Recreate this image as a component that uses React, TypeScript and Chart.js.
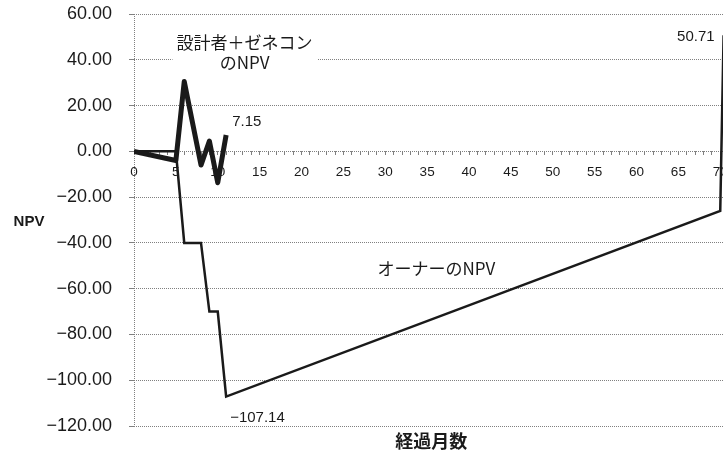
import React, { useEffect, useRef } from "react";
import { Chart, registerables } from "chart.js";

Chart.register(...registerables);

// Designer + general contractor NPV by elapsed month
const designerMonths = [0, 5, 6, 8, 9, 10, 11];
const designerNpv = [0, -4, 30.5, -6, 4.5, -13.7, 7.15];

// Owner NPV by elapsed month
const ownerMonths = [0, 5, 6, 8, 9, 10, 11, 70, 70.4];
const ownerNpv = [0, 0, -40, -40, -70, -70, -107.14, -26, 50.71];

// Axis ranges
const monthRange = [0, 72];
const monthLabelStep = 5;
const npvRange = [-120, 60];
const npvStep = 20;

// Texts
const designerCaption = ["設計者＋ゼネコン", "のNPV"];
const ownerCaption = "オーナーのNPV";
const xTitle = "経過月数";
const yTitle = "NPV";

const INK = "#1a1a1a";
const GRID = "#808080";
const NUM_FONT = '"Liberation Sans", Arial, sans-serif';
const JP_FONT = '"Noto Sans CJK JP", "Noto Sans", sans-serif';

const fmt = (v: number) => (v < 0 ? "\u2212" : "") + Math.abs(v).toFixed(2);
const fmtLabel = (v: number) => (v < 0 ? "\u2212" : "") + String(Math.abs(v));

const annotations = {
  id: "npvAnnotations",
  beforeDatasetsDraw(chart: any) {
    const { ctx, scales } = chart;
    const x = scales.x;
    const y = scales.y;
    // white backing behind the designer caption (hides the gridline behind it)
    const l = x.getPixelForValue(4.6);
    const r = x.getPixelForValue(21.9);
    const t = y.getPixelForValue(53.5);
    const b = y.getPixelForValue(34);
    ctx.save();
    ctx.fillStyle = "#ffffff";
    ctx.fillRect(l, t, r - l, b - t);
    ctx.restore();
  },
  afterDatasetsDraw(chart: any) {
    const { ctx, scales, chartArea } = chart;
    const x = scales.x;
    const y = scales.y;
    ctx.save();
    ctx.fillStyle = INK;
    ctx.textBaseline = "middle";

    // designer caption
    ctx.font = `17px ${JP_FONT}`;
    ctx.textAlign = "center";
    const cx = x.getPixelForValue(13.2);
    ctx.fillText(designerCaption[0], cx, y.getPixelForValue(47.6));
    ctx.fillText(designerCaption[1], cx, y.getPixelForValue(38.9));

    // owner caption
    ctx.fillText(ownerCaption, x.getPixelForValue(36.1), y.getPixelForValue(-51.4));

    // value labels
    ctx.font = `15px ${NUM_FONT}`;
    const dLast = designerNpv.length - 1;
    const dx = x.getPixelForValue(designerMonths[dLast]);
    const dy = y.getPixelForValue(designerNpv[dLast]);
    ctx.textAlign = "left";
    ctx.fillText(fmtLabel(designerNpv[dLast]), dx + 6, dy - 13);

    const minVal = Math.min(...ownerNpv);
    const minIdx = ownerNpv.indexOf(minVal);
    const mx = x.getPixelForValue(ownerMonths[minIdx]);
    const my = y.getPixelForValue(minVal);
    ctx.fillText(fmtLabel(minVal), mx + 4, my + 21);

    const oLast = ownerNpv.length - 1;
    const ox = x.getPixelForValue(ownerMonths[oLast]);
    const oy = y.getPixelForValue(ownerNpv[oLast]);
    ctx.textAlign = "right";
    ctx.fillText(fmtLabel(ownerNpv[oLast]), ox - 9, oy + 2);

    // axis titles
    ctx.textAlign = "center";
    ctx.font = `bold 15px ${NUM_FONT}`;
    ctx.fillText(yTitle, 29, y.getPixelForValue(-31));
    ctx.font = `bold 18px ${JP_FONT}`;
    ctx.fillText(xTitle, x.getPixelForValue(35.5), chartArea.bottom + 15);
    ctx.restore();
  },
};

const noEdgePadding = (scale: any) => {
  scale.paddingTop = 0;
  scale.paddingBottom = 0;
  scale.paddingLeft = 0;
  scale.paddingRight = 0;
};

export default function App() {
  const ref = useRef<HTMLCanvasElement>(null);

  useEffect(() => {
    const canvas = ref.current;
    if (!canvas) return;
    const chart = new Chart(canvas, {
      type: "line",
      data: {
        datasets: [
          {
            label: designerCaption.join(""),
            data: designerMonths.map((m, i) => ({ x: m, y: designerNpv[i] })),
            borderColor: INK,
            borderWidth: 5,
            borderJoinStyle: "round",
            pointRadius: 0,
            tension: 0,
            fill: false,
          },
          {
            label: ownerCaption,
            data: ownerMonths.map((m, i) => ({ x: m, y: ownerNpv[i] })),
            borderColor: INK,
            borderWidth: 2.5,
            borderJoinStyle: "miter",
            pointRadius: 0,
            tension: 0,
            fill: false,
          },
        ],
      },
      options: {
        responsive: false,
        animation: false,
        devicePixelRatio: 1,
        layout: { padding: { top: 14, bottom: 26, left: 0, right: 0 } },
        plugins: { legend: { display: false }, tooltip: { enabled: false } },
        scales: {
          x: {
            type: "linear",
            min: monthRange[0],
            max: monthRange[1],
            position: { y: 0 },
            border: { display: false, dash: [1, 1] },
            grid: {
              drawOnChartArea: true,
              color: (c: any) => (c.tick && c.tick.value === 0 ? GRID : "rgba(0,0,0,0)"),
              tickColor: GRID,
              tickLength: 4,
              lineWidth: 1,
            },
            ticks: {
              stepSize: 1,
              autoSkip: false,
              maxRotation: 0,
              minRotation: 0,
              padding: 9,
              color: INK,
              font: { family: NUM_FONT, size: 13.5 },
              callback: (v: any) => (Number(v) % monthLabelStep === 0 ? String(v) : ""),
            },
            afterFit: noEdgePadding,
          },
          y: {
            type: "linear",
            min: npvRange[0],
            max: npvRange[1],
            position: "left",
            border: { display: false, dash: [1, 1] },
            grid: { color: GRID, lineWidth: 1, tickLength: 5, tickColor: GRID },
            ticks: {
              stepSize: npvStep,
              padding: 17,
              color: INK,
              font: { family: NUM_FONT, size: 18 },
              callback: (v: any) => fmt(Number(v)),
            },
            afterFit: (scale: any) => {
              noEdgePadding(scale);
              scale.width = 134;
            },
          },
        },
      },
      plugins: [annotations],
    });
    return () => chart.destroy();
  }, []);

  return (
    <div
      style={{
        position: "fixed",
        left: 0,
        top: 0,
        width: 723,
        height: 452,
        overflow: "hidden",
        background: "#ffffff",
      }}
    >
      <canvas ref={ref} width={737} height={452} style={{ display: "block" }} />
    </div>
  );
}
